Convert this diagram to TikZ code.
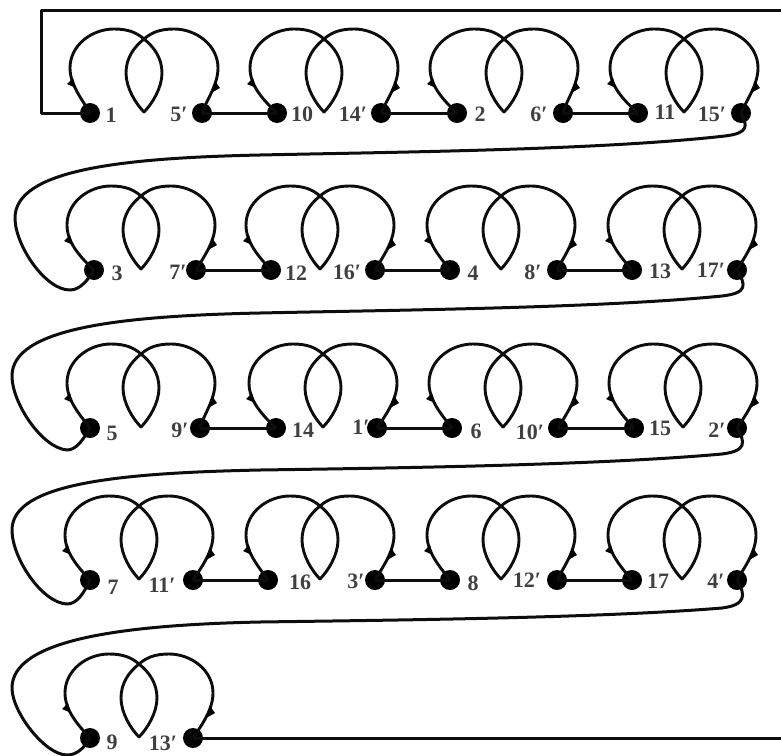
\documentclass[tikz,border=0pt]{standalone}
\usepackage{fontspec}
\setmainfont{Liberation Serif}
\tikzset{
  dot/.style={circle,fill=black,draw=none,inner sep=0pt,minimum size=20pt},
  wire/.style={line width=3pt,line join=round,black!95},
  lab/.style={inner sep=0pt,text=black!75,font=\fontsize{22}{22}\selectfont\bfseries},
  tick/.style={fill=black,draw=none}
}
% name-left, name-right, cx, y, x-left, x-right
\newcommand{\knotunit}[6]{%
  \node[dot] (#1) at (#5,#4) {};
  \node[dot] (#2) at (#6,#4) {};
  \begin{scope}[shift={(#3,#4)}]
    \draw[wire,line width=2.9pt] (#1.center)
      .. controls (-62,-14) and (-74,-28) .. (-74,-45)
      .. controls (-74,-68) and (-52,-84) .. (-30,-84)
      .. controls (-15,-84) and (-7,-80) .. (0,-74)
      .. controls (10,-66) and (18,-55) .. (18,-40)
      .. controls (18,-25) and (8,-9) .. (0,-1)
      .. controls (-8,-9) and (-18,-25) .. (-18,-40)
      .. controls (-18,-55) and (-10,-66) .. (0,-74)
      .. controls (7,-80) and (15,-84) .. (30,-84)
      .. controls (52,-84) and (74,-68) .. (74,-45)
      .. controls (74,-28) and (62,-12) .. (#2.center);
    \fill[tick] (-77,-29) -- (-71,-35) -- (-68,-25) -- cycle;
    \fill[tick] (76,-25) -- (71,-32) -- (67,-20) -- cycle;
  \end{scope}}
\newcommand{\numlab}[3]{\node[lab] (#1) at (#2) {#3};}
\begin{document}
\begin{tikzpicture}[x=1pt,y=-1pt]
\useasboundingbox (0,0) rectangle (781,755);
% row 1
\knotunit{a1}{a2}{144}{113}{90}{202}
\knotunit{a3}{a4}{324}{113}{277}{381}
\knotunit{a5}{a6}{504}{113}{457}{563}
\knotunit{a7}{a8}{684}{113}{638}{741}
% row 2
\knotunit{b1}{b2}{141}{270}{94}{196}
\knotunit{b3}{b4}{320}{270}{271}{375}
\knotunit{b5}{b6}{501}{270}{450}{557}
\knotunit{b7}{b8}{682}{270}{632}{737}
% row 3
\knotunit{c1}{c2}{141}{428}{90}{200}
\knotunit{c3}{c4}{323}{428}{276}{377}
\knotunit{c5}{c6}{503}{428}{452}{558}
\knotunit{c7}{c8}{683}{428}{634}{737}
% row 4
\knotunit{d1}{d2}{139}{580}{90}{193}
\knotunit{d3}{d4}{320}{580}{268}{375}
\knotunit{d5}{d6}{501}{580}{450}{557}
\knotunit{d7}{d8}{682}{580}{632}{737}
% row 5
\knotunit{e1}{e2}{139}{738}{90}{193}
% labels
\numlab{ta1}{111,115}{1}\numlab{ta2}{179,114}{5′}\numlab{ta3}{302,114}{10}\numlab{ta4}{353,114}{14′}
\numlab{ta5}{480,114}{2}\numlab{ta6}{539,114}{6′}\numlab{ta7}{665,112}{11}\numlab{ta8}{712,114}{15′}
\numlab{tb1}{117,273}{3}\numlab{tb2}{178,272}{7′}\numlab{tb3}{296,273}{12}\numlab{tb4}{347,272}{16′}
\numlab{tb5}{473,273}{4}\numlab{tb6}{533,272}{8′}\numlab{tb7}{660,271}{13}\numlab{tb8}{711,270}{17′}
\numlab{tc1}{112,433}{5}\numlab{tc2}{180,430}{9′}\numlab{tc3}{303,430}{14}\numlab{tc4}{361,427}{1′}
\numlab{tc5}{476,431}{6}\numlab{tc6}{530,432}{10′}\numlab{tc7}{660,428}{15}\numlab{tc8}{717,430}{2′}
\numlab{td1}{113,587}{7}\numlab{td2}{162,585}{11′}\numlab{td3}{300,582}{16}\numlab{td4}{356,581}{3′}
\numlab{td5}{473,583}{8}\numlab{td6}{527,580}{12′}\numlab{td7}{658,581}{17}\numlab{td8}{716,581}{4′}
\numlab{te1}{112,742}{9}\numlab{te2}{163,743}{13′}
% straight links within rows
\foreach \p/\q in {a2/a3,a4/a5,a6/a7,b2/b3,b4/b5,b6/b7,c2/c3,c4/c5,c6/c7,d2/d3,d4/d5,d6/d7}
  \draw[wire] (\p.center) -- (\q.center);
% outer frame and free ends
\coordinate (framebl) at (41,113);
\coordinate (frametl) at (41,10);
\coordinate (frametr) at (781,10);
\coordinate (exit) at (781,738);
\draw[wire] (a1.center) -- (framebl) -- (frametl) -- (frametr);
\draw[wire] (e2.center) -- (exit);
% return loops
\draw[wire] (a8.center) .. controls (747,125) and (750,133) .. (725,136)
  .. controls (600,150) and (400,152) .. (260,155)
  .. controls (120,158) and (15,170) .. (15,218)
  .. controls (15,245) and (45,290) .. (70,290)
  .. controls (80,290) and (88,280) .. (b1.center);
\draw[wire] (b8.center) .. controls (746,285) and (748,293) .. (722,296)
  .. controls (600,308) and (400,310) .. (260,313)
  .. controls (120,316) and (12,328) .. (12,376)
  .. controls (12,403) and (42,448) .. (67,450)
  .. controls (77,450) and (84,438) .. (c1.center);
\draw[wire] (c8.center) .. controls (746,443) and (746,451) .. (722,454)
  .. controls (600,465) and (400,468) .. (260,470)
  .. controls (120,473) and (12,483) .. (12,530)
  .. controls (12,558) and (42,603) .. (67,604)
  .. controls (77,604) and (84,593) .. (d1.center);
\draw[wire] (d8.center) .. controls (746,595) and (746,605) .. (722,608)
  .. controls (600,618) and (400,620) .. (260,622)
  .. controls (120,625) and (12,640) .. (12,688)
  .. controls (12,712) and (45,755) .. (67,755)
  .. controls (77,755) and (84,748) .. (e1.center);
\end{tikzpicture}
\end{document}
